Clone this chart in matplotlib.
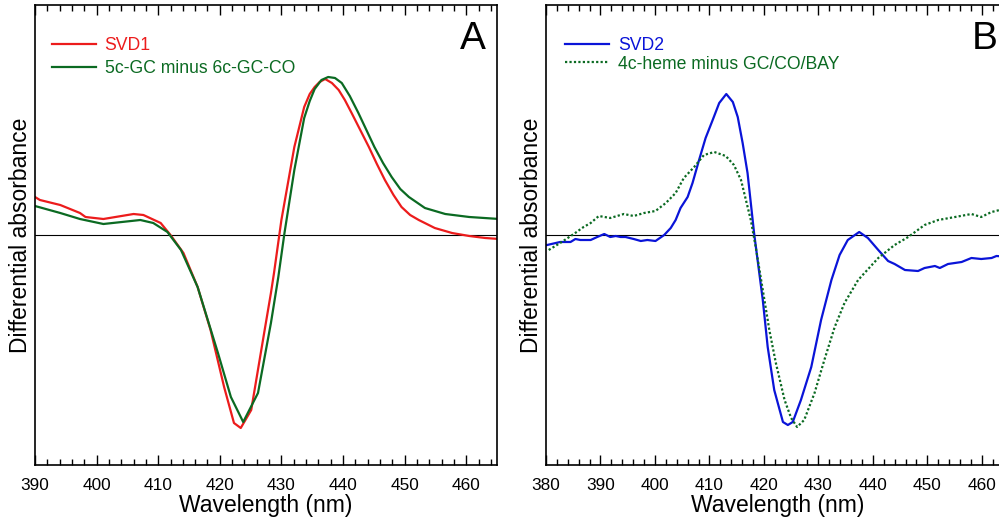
import numpy as np
import matplotlib
matplotlib.use('Agg')
import matplotlib.pyplot as plt
from matplotlib.ticker import MultipleLocator

plt.rcParams['font.family'] = ['Liberation Sans', 'DejaVu Sans']

# panel A: SVD1 and the 5c-GC minus 6c-GC-CO difference spectrum (arb. units)
wl_svd1 = [390.0, 390.8, 394.1, 397.3, 398.2, 401.1, 406.0, 407.6, 410.4, 412.0,
           414.1, 416.4, 418.5, 420.7, 422.3, 423.4, 425.1, 427.2, 428.3, 428.8,
           430.0, 432.1, 433.7, 434.6, 435.4, 436.2, 437.1, 438.2, 439.3, 440.3,
           441.4, 442.8, 444.2, 445.5, 446.8, 448.2, 449.5, 450.9, 452.3, 454.9,
           457.7, 460.5, 463.1, 465.4]
svd1 = [38, 35, 30, 22, 18, 16, 21, 20, 12, 0,
        -18, -52, -95, -152, -188, -193, -175, -98, -58, -38,
        15, 88, 128, 141, 148, 153, 156, 152, 145, 135,
        122, 105, 88, 71, 55, 40, 28, 20, 15, 7,
        2, -1, -3, -4]

wl_5c = [390.0, 394.1, 397.3, 401.1, 407.1, 409.2, 411.5, 413.7, 416.4, 419.7,
         421.8, 423.8, 426.2, 428.3, 429.5, 430.5, 432.1, 433.7, 434.6, 435.4,
         436.5, 437.6, 438.7, 439.8, 441.1, 442.5, 443.8, 445.1, 446.5, 447.9,
         449.3, 450.7, 453.3, 456.6, 460.5, 465.4]
diff_5c = [29, 22, 16, 11, 15, 12, 3, -15, -52, -118,
           -162, -187, -158, -88, -42, 2, 65, 117, 134, 146,
           155, 158, 157, 152, 139, 122, 105, 88, 72, 58,
           46, 38, 27, 21, 18, 16]

# panel B: SVD2 and the 4c-heme minus GC/CO/BAY difference spectrum
wl_svd2 = [380.2, 382.6, 384.5, 385.4, 386.3, 388.2, 389.4, 390.7, 391.8, 392.8,
           393.7, 394.6, 396.1, 397.4, 398.6, 400.1, 401.7, 402.9, 403.8, 404.7,
           406.0, 406.9, 408.1, 409.3, 410.6, 411.8, 413.1, 414.3, 415.2, 416.1,
           417.0, 418.2, 419.8, 420.7, 421.9, 423.5, 424.4, 425.3, 426.8, 428.7,
           430.5, 432.4, 433.9, 435.4, 437.5, 439.1, 441.0, 442.8, 444.0, 445.9,
           448.3, 449.5, 451.4, 452.3, 453.8, 456.3, 458.1, 459.9, 461.8, 462.7,
           465.3]
svd2 = [-10, -7, -7, -4, -5, -5, -2, 1, -2, -1,
        -2, -2, -4, -6, -5, -6, 0, 7, 15, 27,
        38, 52, 75, 97, 115, 132, 141, 133, 118, 92,
        62, 2, -65, -112, -155, -187, -190, -187, -165, -132,
        -85, -45, -20, -5, 3, -3, -15, -26, -29, -35,
        -36, -33, -31, -33, -29, -27, -23, -24, -23, -21,
        -22]

wl_4c = [380.5, 382.6, 385.1, 386.9, 388.2, 389.7, 391.8, 394.3, 396.1, 398.0,
         400.1, 402.0, 403.8, 405.3, 407.2, 409.0, 410.9, 413.0, 414.5, 415.8,
         416.7, 417.6, 418.5, 419.8, 421.0, 422.2, 423.8, 425.0, 426.1, 427.4,
         429.3, 431.1, 433.0, 434.8, 437.3, 441.0, 444.0, 446.5, 449.5, 452.0,
         455.1, 458.1, 459.9, 461.8, 463.3, 465.3]
diff_4c = [-15, -8, 1, 8, 12, 19, 17, 21, 19, 22,
           24, 32, 42, 57, 68, 80, 83, 79, 70, 55,
           35, 15, -12, -55, -95, -128, -165, -183, -192, -185,
           -158, -125, -92, -68, -45, -23, -10, -2, 10, 15,
           18, 21, 18, 23, 25, 27]

red = '#ec1c1c'
green = '#0b6a22'
blue = '#0a14d8'

W, H = 999, 525
fig = plt.figure(figsize=(W / 100, H / 100), dpi=100)
axA = fig.add_axes([35 / W, 60 / H, 462 / W, 460 / H])
axB = fig.add_axes([546 / W, 60 / H, 463 / W, 460 / H])

axA.plot(wl_svd1, svd1, color=red, lw=1.6, label='SVD1')
axA.plot(wl_5c, diff_5c, color=green, lw=1.6, label='5c-GC minus 6c-GC-CO')
axB.plot(wl_svd2, svd2, color=blue, lw=1.6, label='SVD2')
axB.plot(wl_4c, diff_4c, color=green, lw=1.6, ls=(0, (1, 1)),
         label='4c-heme minus GC/CO/BAY')

panels = [(axA, 390, 'A', [red, green], -0.002, 0.33),
          (axB, 380, 'B', [blue, green], 0.003, 0.1)]
for ax, lo, letter, cols, lx, lsp in panels:
    ax.axhline(0, color='black', lw=0.8, zorder=0)
    ax.set_xlim(lo, 465)
    ax.set_ylim(-230, 230)
    ax.set_yticks([])
    ax.xaxis.set_major_locator(MultipleLocator(10))
    ax.xaxis.set_minor_locator(MultipleLocator(2))
    ax.tick_params(axis='x', which='both', direction='in', top=True,
                   labelsize=12.4, pad=9, width=1)
    ax.tick_params(axis='x', which='major', length=7)
    ax.tick_params(axis='x', which='minor', length=4)
    for s in ax.spines.values():
        s.set_linewidth(1.2)
    ax.set_xlabel('Wavelength (nm)', fontsize=16.5, labelpad=1)
    ax.set_ylabel('Differential absorbance', fontsize=16.5, labelpad=2)
    ax.text(0.975, 0.965, letter, transform=ax.transAxes, ha='right',
            va='top', fontsize=28)
    leg = ax.legend(loc='upper left', frameon=False, fontsize=12.7,
                    handlelength=2.5, handletextpad=0.5, labelspacing=lsp,
                    borderaxespad=0.6, bbox_to_anchor=(lx, 0.969))
    for t, c in zip(leg.get_texts(), cols):
        t.set_color(c)

fig.savefig('out.png', dpi=100)
